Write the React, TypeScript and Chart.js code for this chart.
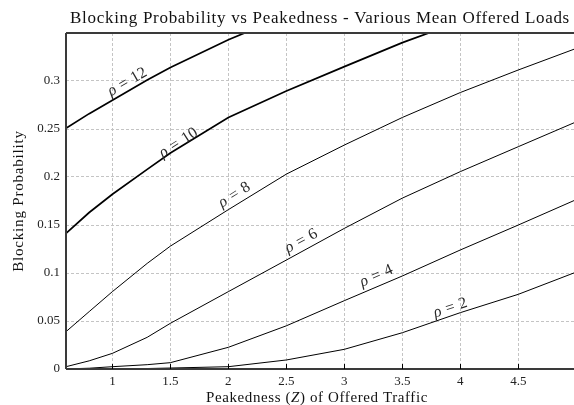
import React, { useEffect, useRef } from "react";
import { Chart, registerables } from "chart.js";

Chart.register(...registerables);

const peakedness = [0.6, 0.8, 1.0, 1.3, 1.5, 2.0, 2.5, 3.0, 3.5, 4.0, 4.5, 5.0];

const rho2 = [0.0, 0.0, 0.0002, 0.0005, 0.001, 0.0024, 0.0094, 0.0205, 0.0378, 0.0587, 0.0778, 0.101];
const rho4 = [0.0001, 0.0008, 0.0024, 0.0045, 0.0066, 0.0226, 0.045, 0.0712, 0.0969, 0.124, 0.15, 0.1765];
const rho6 = [0.0024, 0.0085, 0.0163, 0.033, 0.0476, 0.0806, 0.1135, 0.1465, 0.178, 0.2056, 0.2316, 0.2575];
const rho8 = [0.0389, 0.0598, 0.0806, 0.11, 0.128, 0.166, 0.203, 0.2333, 0.262, 0.288, 0.3115, 0.334];
const rho10 = [0.1413, 0.163, 0.182, 0.208, 0.225, 0.262, 0.2896, 0.315, 0.34, 0.362, 0.383, 0.403];
const rho12 = [0.2507, 0.266, 0.28, 0.301, 0.314, 0.343, 0.368, 0.392, 0.414, 0.435, 0.455, 0.475];

const seriesNames = ["2", "4", "6", "8", "10", "12"];
const seriesValues = [rho2, rho4, rho6, rho8, rho10, rho12];

const xTicks = [1, 1.5, 2, 2.5, 3, 3.5, 4, 4.5];
const yTicks = [0, 0.05, 0.1, 0.15, 0.2, 0.25, 0.3];

// curve label anchors (data coords) and angles (deg)
const labelX = [3.914, 3.276, 2.629, 2.052, 1.569, 1.129];
const labelY = [0.0635, 0.0969, 0.1333, 0.1813, 0.2354, 0.299];
const labelAngle = [-18.5, -23.6, -28.5, -32, -32.6, -30];

const chartTitle = "Blocking Probability vs Peakedness - Various Mean Offered Loads";
const xTitleParts = ["Peakedness (", "Z", ") of Offered Traffic"];
const yTitle = "Blocking Probability";

const FONT = "'Liberation Serif', 'DejaVu Serif', serif";

const decorPlugin = {
  id: "decor",
  afterDraw(chart: any) {
    const { ctx, chartArea } = chart;
    const xs = chart.scales.x;
    const ys = chart.scales.y;
    const { left, right, top, bottom } = chartArea;
    ctx.save();
    // frame
    ctx.strokeStyle = "#3a3a3a";
    ctx.lineWidth = 2;
    ctx.beginPath();
    ctx.moveTo(left, top);
    ctx.lineTo(right, top);
    ctx.moveTo(left, top);
    ctx.lineTo(left, bottom);
    ctx.moveTo(left, bottom);
    ctx.lineTo(right, bottom);
    ctx.stroke();
    // inward ticks on x
    ctx.strokeStyle = "#000";
    ctx.lineWidth = 1;
    ctx.beginPath();
    xTicks.forEach((v) => {
      const px = Math.round(xs.getPixelForValue(v)) + 0.5;
      ctx.moveTo(px, bottom);
      ctx.lineTo(px, bottom - 5);
    });
    ctx.stroke();

    // curve labels
    ctx.fillStyle = "#2a2a2a";
    ctx.textBaseline = "middle";
    const LS = 16;
    seriesNames.forEach((name, i) => {
      const px = xs.getPixelForValue(labelX[i]);
      const py = ys.getPixelForValue(labelY[i]);
      ctx.save();
      ctx.translate(px, py);
      ctx.rotate((labelAngle[i] * Math.PI) / 180);
      ctx.font = `italic ${LS}px ${FONT}`;
      const w1 = ctx.measureText("ρ").width;
      ctx.font = `${LS}px ${FONT}`;
      const wEq = ctx.measureText("=").width;
      const wNum = ctx.measureText(name).width;
      const gap = 5;
      const total = w1 + gap + wEq + gap + wNum;
      let x0 = -total / 2;
      ctx.textAlign = "left";
      ctx.font = `italic ${LS}px ${FONT}`;
      ctx.fillText("ρ", x0, 0);
      ctx.font = `${LS}px ${FONT}`;
      ctx.fillText("=", x0 + w1 + gap, 0);
      ctx.fillText(name, x0 + w1 + gap + wEq + gap, 0);
      ctx.restore();
    });

    // title
    ctx.fillStyle = "#111";
    ctx.textBaseline = "alphabetic";
    ctx.textAlign = "center";
    ctx.font = `17px ${FONT}`;
    (ctx as any).letterSpacing = "0.7px";
    ctx.fillText(chartTitle, (left + right) / 2, 23);

    // x title with italic Z
    (ctx as any).letterSpacing = "0.6px";
    const fonts = [`15px ${FONT}`, `italic 15px ${FONT}`, `15px ${FONT}`];
    const widths = xTitleParts.map((p, i) => {
      ctx.font = fonts[i];
      return ctx.measureText(p).width;
    });
    const tw = widths.reduce((a, b) => a + b, 0);
    let cx = (left + right) / 2 - tw / 2 - 3;
    ctx.textAlign = "left";
    xTitleParts.forEach((p, i) => {
      ctx.font = fonts[i];
      ctx.fillText(p, cx, 402);
      cx += widths[i];
    });

    // y title
    ctx.save();
    ctx.translate(23, (top + bottom) / 2);
    ctx.rotate(-Math.PI / 2);
    ctx.textAlign = "center";
    ctx.font = `15px ${FONT}`;
    (ctx as any).letterSpacing = "0.8px";
    ctx.fillText(yTitle, 0, 0);
    ctx.restore();
    (ctx as any).letterSpacing = "0px";

    ctx.restore();
  },
};

export default function App() {
  const canvasRef = useRef<HTMLCanvasElement | null>(null);

  useEffect(() => {
    document.body.style.margin = "0";
    const canvas = canvasRef.current;
    if (!canvas) return;
    const datasets = seriesValues.map((vals, i) => ({
      label: "ρ = " + seriesNames[i],
      data: peakedness.map((x, j) => ({ x, y: vals[j] })),
      borderColor: "#000",
      borderWidth: i >= 4 ? 1.7 : 1,
      pointRadius: 0,
      tension: 0,
      fill: false,
    }));
    const chart = new Chart(canvas, {
      type: "line",
      data: { datasets },
      options: {
        animation: false,
        responsive: false,
        maintainAspectRatio: false,
        layout: { padding: { top: 33, left: 0, right: 0, bottom: 0 } },
        plugins: {
          legend: { display: false },
          title: { display: false },
          tooltip: { enabled: false },
        },
        scales: {
          x: {
            type: "linear",
            min: 0.6,
            max: 4.98,
            afterBuildTicks: (scale: any) => {
              scale.ticks = xTicks.map((v) => ({ value: v }));
            },
            afterFit: (scale: any) => {
              scale.height = 36;
            },
            grid: {
              color: "#c4c4c4",
              lineWidth: 1,
              drawTicks: false,
            },
            border: { display: false, dash: [3, 2] },
            ticks: {
              padding: 5,
              color: "#222",
              font: { family: FONT, size: 13 },
              maxRotation: 0,
              callback: (v: any) => String(v),
            },
          },
          y: {
            type: "linear",
            min: 0,
            max: 0.35,
            afterBuildTicks: (scale: any) => {
              scale.ticks = yTicks.map((v) => ({ value: v }));
            },
            afterFit: (scale: any) => {
              scale.width = 66;
            },
            grid: {
              color: "#c4c4c4",
              lineWidth: 1,
              drawTicks: false,
            },
            border: { display: false, dash: [3, 2] },
            ticks: {
              padding: 6,
              color: "#222",
              font: { family: FONT, size: 13 },
              callback: (v: any) => String(v),
            },
          },
        },
      },
      plugins: [decorPlugin],
    });
    return () => chart.destroy();
  }, []);

  return (
    <div style={{ width: 574, height: 405 }}>
      <canvas ref={canvasRef} width={574} height={405} style={{ display: "block" }} />
    </div>
  );
}
